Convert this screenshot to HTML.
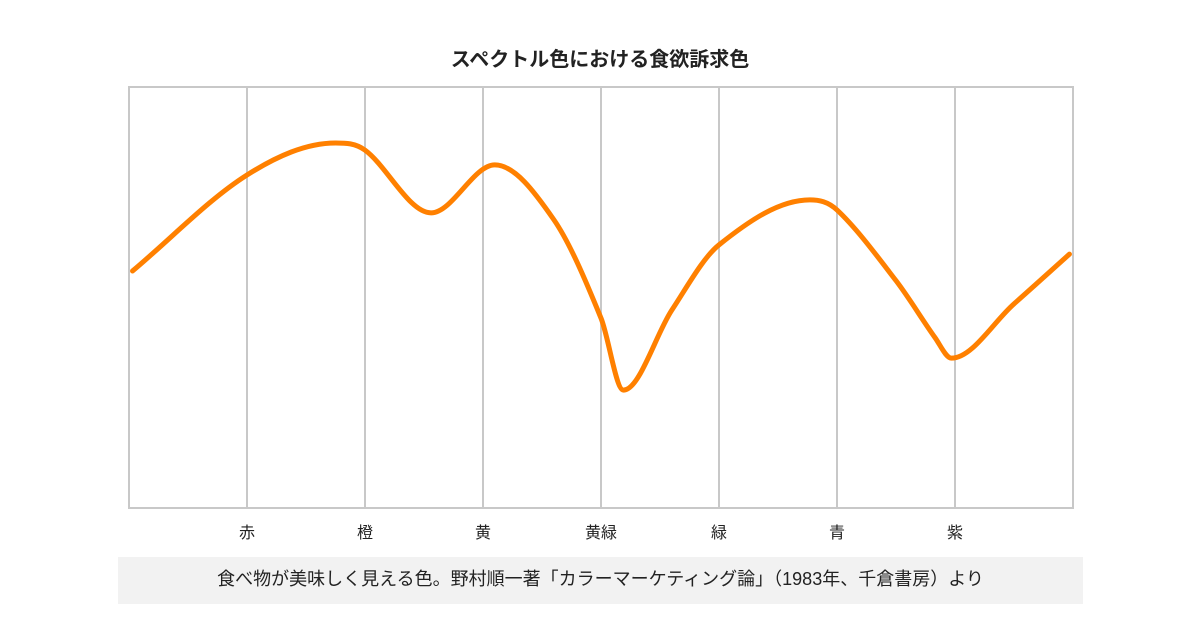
<!DOCTYPE html>
<html><head><meta charset="utf-8">
<style>
body{margin:0;background:#fff;width:1200px;height:630px;overflow:hidden;font-family:"Liberation Sans","Noto Sans CJK JP",sans-serif;}
svg{position:absolute;left:0;top:0}
#note{position:absolute;left:118px;top:557px;width:965px;height:47px;background:#f2f2f2;font-size:18px;color:#222;text-align:center;line-height:45px;white-space:nowrap;}
</style></head><body>
<svg width="1200" height="630">
<text x="600" y="66" text-anchor="middle" font-size="20" font-weight="bold" fill="#222" font-family="Liberation Sans, Noto Sans CJK JP, sans-serif">スペクトル色における食欲訴求色</text>
<g id="grid"></g>
<rect x="129" y="87" width="944" height="421" fill="none" stroke="#c8c8c8" stroke-width="2"/>
<g id="labels"></g>
<path id="curve" fill="none" stroke="#ff8000" stroke-width="5" stroke-linecap="round" stroke-linejoin="round"/>
</svg>
<div id="note">食べ物が美味しく見える色。野村順一著「カラーマーケティング論」（1983年、千倉書房）より</div>
<script>
const categories=["赤","橙","黄","黄緑","緑","青","紫"];
const curveX=[0.03,1,1.75,2,2.56,3.1,3.6,4,4.19,4.6,5,5.77,6,6.5,6.83,6.97,7.5,7.97];
const curveY=[56.3,79.1,86.7,85.0,70.1,81.5,68.5,45.1,28.0,47.0,62.5,73.2,70.8,54.0,40.5,35.6,48.5,60.3];
const L=129,R=1073,T=87,B=508,N=8;
const sx=v=>L+(R-L)*v/N, sy=v=>B-(B-T)*v/100;
const ns="http://www.w3.org/2000/svg";
const g=document.getElementById('grid'),lb=document.getElementById('labels');
categories.forEach((c,i)=>{
 const x=sx(i+1);
 const l=document.createElementNS(ns,'line');
 l.setAttribute('x1',x);l.setAttribute('x2',x);l.setAttribute('y1',T);l.setAttribute('y2',B);
 l.setAttribute('stroke','#c8c8c8');l.setAttribute('stroke-width','2');
 
 
 g.appendChild(l);
 const t=document.createElementNS(ns,'text');
 t.setAttribute('x',x);t.setAttribute('y',538);t.setAttribute('text-anchor','middle');
 t.setAttribute('font-size','16');t.setAttribute('fill','#222');
 t.textContent=c;
 
 
 lb.appendChild(t);
});
const P=curveX.map((x,i)=>[sx(x),sy(curveY[i])]);
const n=P.length;
const m=P.map((p,i)=>{
 if(i===0) return (P[1][1]-p[1])/(P[1][0]-p[0]);
 if(i===n-1) return (p[1]-P[n-2][1])/(p[0]-P[n-2][0]);
 const a=P[i-1],b=P[i+1];
 if((p[1]-a[1])*(b[1]-p[1])<=0) return 0;
 return (b[1]-a[1])/(b[0]-a[0]);
});
let d='M'+P[0][0]+','+P[0][1];
for(let i=0;i<n-1;i++){
 const p1=P[i],p2=P[i+1],dx=p2[0]-p1[0];
 d+=` C${p1[0]+dx/3},${p1[1]+m[i]*dx/3} ${p2[0]-dx/3},${p2[1]-m[i+1]*dx/3} ${p2[0]},${p2[1]}`;
}
document.getElementById('curve').setAttribute('d',d);
</script>
</body></html>
